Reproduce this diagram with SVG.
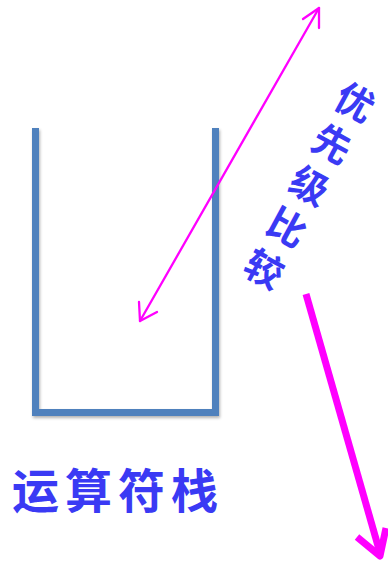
<svg xmlns="http://www.w3.org/2000/svg" width="388" height="563" viewBox="0 0 388 563">
<defs>
<filter id="sh" x="-20%" y="-20%" width="140%" height="140%">
<feDropShadow dx="1" dy="2" stdDeviation="1.5" flood-color="#000" flood-opacity="0.3"/>
</filter>
</defs>
<style>
.stack{fill:none;stroke:#4F81BD;stroke-width:7;stroke-linejoin:miter;stroke-linecap:butt}
.thin{fill:none;stroke:#FF00FF;stroke-width:2.3;stroke-linecap:round;stroke-linejoin:round}
.thick{fill:none;stroke:#FF00FF;stroke-width:7;stroke-linecap:butt;stroke-linejoin:round}
.lbl{font-family:"Noto Sans CJK SC","Noto Sans",sans-serif;fill:#3A3AF4;font-weight:bold}
</style>
<g id="stack" filter="url(#sh)">
<path class="stack" d="M35.5,128 V412.5 H215.5 V128"/>
</g>
<g id="connectors">
<path class="thin" d="M140,321 L319,8"/>
<path class="thin" d="M303,19 L319,8 L319,28"/>
<path class="thin" d="M139,302 L140,321 L157,312"/>
<path class="thick" d="M306,294 L380,553"/>
<path class="thick" d="M357,537 L380,556 L386,528" stroke-linecap="round"/>
</g>
<g id="label-priority" transform="translate(356,100) rotate(28.5)">
<text class="lbl" x="0" y="0" font-size="38" text-anchor="middle" dominant-baseline="central">优</text>
<text class="lbl" x="0" y="47.5" font-size="38" text-anchor="middle" dominant-baseline="central">先</text>
<text class="lbl" x="0" y="95" font-size="38" text-anchor="middle" dominant-baseline="central">级</text>
<text class="lbl" x="0" y="142.5" font-size="38" text-anchor="middle" dominant-baseline="central">比</text>
<text class="lbl" x="0" y="190" font-size="38" text-anchor="middle" dominant-baseline="central">较</text>
</g>
<g id="label-stack">
<text class="lbl" x="12" y="508" font-size="47" letter-spacing="6">运算符栈</text>
</g>
</svg>
